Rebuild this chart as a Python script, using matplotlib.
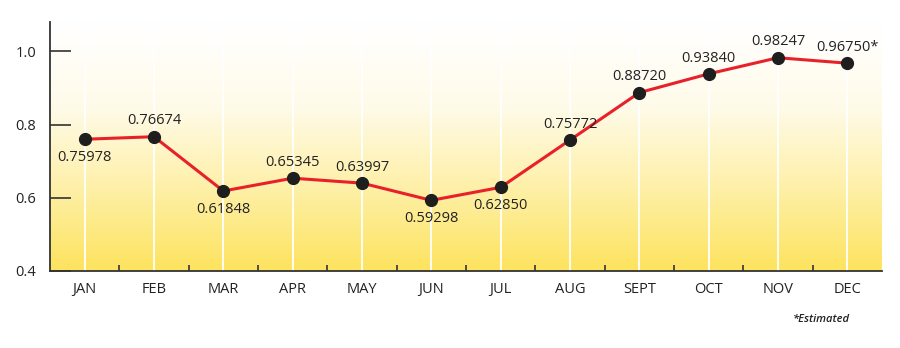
import numpy as np
import matplotlib.pyplot as plt
from matplotlib.colors import LinearSegmentedColormap

plt.rcParams['font.family'] = ['Open Sans', 'DejaVu Sans']

months = ["JAN", "FEB", "MAR", "APR", "MAY", "JUN", "JUL", "AUG", "SEPT", "OCT", "NOV", "DEC"]
values = [0.75978, 0.76674, 0.61848, 0.65345, 0.63997, 0.59298, 0.62850, 0.75772,
          0.88720, 0.93840, 0.98247, 0.96750]
labels = ["0.75978", "0.76674", "0.61848", "0.65345", "0.63997", "0.59298", "0.62850",
          "0.75772", "0.88720", "0.93840", "0.98247", "0.96750*"]
# label above (1) or below (-1) the point
label_side = [-1, 1, -1, 1, 1, -1, -1, 1, 1, 1, 1, 1]

fig = plt.figure(figsize=(9, 3.48), dpi=100)
ax = fig.add_axes([50 / 900, 1 - 271 / 348, 832 / 900, 249 / 348])

x = np.arange(len(months))
ymin, ymax = 0.4, 1.08
ax.set_xlim(-0.5, len(months) - 0.5)
ax.set_ylim(ymin, ymax)

# background gradient, white at top -> yellow at bottom
cmap = LinearSegmentedColormap.from_list("bg", ["#fde35e", "#fef0a8", "#fffbea", "#ffffff"])
grad = np.linspace(0, 1, 256).reshape(-1, 1)
ax.imshow(grad, cmap=cmap, origin="lower", aspect="auto",
          extent=(-0.5, len(months) - 0.5, ymin, ymax), zorder=0)

for xi in x:
    ax.axvline(xi, color="white", lw=1.3, zorder=1)

ax.plot(x, values, color="#e8202a", lw=2.2, zorder=3)
ax.plot(x, values, "o", color="#1e1e1e", ms=8.5, zorder=4)

for xi, v, lab, s in zip(x, values, labels, label_side):
    off = 6 if s > 0 else -8
    ax.annotate(lab, (xi, v), xytext=(0, off),
                textcoords="offset points", ha="center",
                va="bottom" if s > 0 else "top", fontsize=10.5, color="#222222")

ax.set_xticks(x)
ax.set_xticklabels(months)
ax.set_xticks(x[:-1] + 0.5, minor=True)
ax.tick_params(axis="x", which="major", length=0, pad=8, labelsize=10.5, colors="#222222")
ax.tick_params(axis="x", which="minor", direction="in", length=4, width=1.2, color="#333333")
ax.set_yticks([0.4, 0.6, 0.8, 1.0])
ax.set_yticklabels(["0.4", "0.6", "0.8", "1.0"])
ax.tick_params(axis="y", direction="in", length=15, width=1.2, color="#333333",
               pad=10, labelsize=10.5, labelcolor="#222222")

for side in ["top", "right"]:
    ax.spines[side].set_visible(False)
for side in ["left", "bottom"]:
    ax.spines[side].set_color("#333333")
    ax.spines[side].set_linewidth(1.3)

fig.text(850 / 900, 1 - 320 / 348, "*Estimated", ha="right", va="center",
         fontsize=8, style="italic", fontweight="semibold", color="#222222")

fig.savefig("out.png", dpi=100)
